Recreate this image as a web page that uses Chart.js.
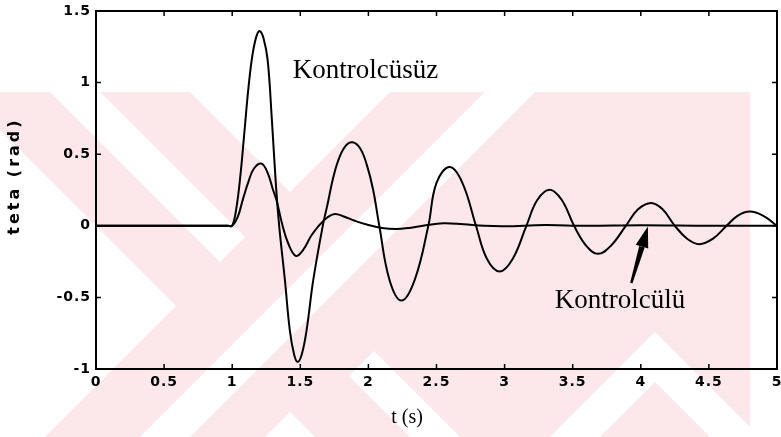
<!DOCTYPE html>
<html>
<head>
<meta charset="utf-8">
<script src="https://cdn.jsdelivr.net/npm/chart.js@4/dist/chart.umd.min.js"></script>
<style>
  html, body { margin: 0; padding: 0; background: #fff; }
  #wrap { width: 781px; height: 437px; }
</style>
</head>
<body>
<div id="wrap"><canvas id="c" width="781" height="437"></canvas></div>
<script>
// Pendulum angle response, without and with the controller
const timeFree = [0, 0.9, 0.97, 1.0, 1.03, 1.06, 1.09, 1.12, 1.15, 1.18, 1.203, 1.23, 1.26, 1.29, 1.32, 1.345,
  1.387, 1.423, 1.455, 1.48, 1.51, 1.546, 1.595, 1.665, 1.70, 1.74, 1.78, 1.83, 1.883, 1.94, 1.99, 2.035, 2.08,
  2.155, 2.243, 2.34, 2.44, 2.50, 2.597, 2.69, 2.79, 2.87, 2.964, 3.06, 3.16, 3.24, 3.331, 3.42,
  3.51, 3.60, 3.685, 3.78, 3.89, 3.98, 4.076, 4.16, 4.25, 4.34, 4.43, 4.53, 4.63, 4.71, 4.80, 4.90, 5.0];
const thetaFree = [0, 0, 0, 0, 0.12, 0.35, 0.66, 0.97, 1.2, 1.33, 1.36, 1.31, 1.16, 0.76, 0.3, 0,
  -0.38, -0.73, -0.9, -0.95, -0.9, -0.73, -0.38, 0, 0.15, 0.33, 0.46, 0.555, 0.583, 0.54, 0.42, 0.25, 0,
  -0.378, -0.522, -0.378, 0, 0.3, 0.41, 0.3, 0, -0.23, -0.319, -0.23, 0, 0.18, 0.252, 0.18,
  0, -0.14, -0.196, -0.14, 0, 0.115, 0.159, 0.115, 0, -0.09, -0.128, -0.09, 0, 0.07, 0.1, 0.07, 0];

const timeCtrl = [0, 0.9, 0.97, 1.0, 1.04, 1.08, 1.12, 1.16, 1.215, 1.26, 1.3, 1.325, 1.37, 1.41, 1.467, 1.52,
  1.58, 1.635, 1.7, 1.753, 1.82, 1.9, 2.0, 2.1, 2.2, 2.3, 2.4, 2.55, 2.7, 2.85, 3.0, 3.3, 3.6, 4.0, 4.5, 5.0];
const thetaCtrl = [0, 0, 0, 0, 0.06, 0.19, 0.31, 0.4, 0.434, 0.37, 0.25, 0.18, 0, -0.12, -0.21, -0.17,
  -0.07, 0, 0.06, 0.083, 0.065, 0.035, 0.005, -0.015, -0.022, -0.015, 0, 0.018, 0.01, 0, -0.003, 0.005, 0, 0.004, 0, 0];

const xTicks = [0, 0.5, 1, 1.5, 2, 2.5, 3, 3.5, 4, 4.5, 5];
const xTickLabels = ['0', '0.5', '1', '1.5', '2', '2.5', '3', '3.5', '4', '4.5', '5'];
const yTicks = [-1, -0.5, 0, 0.5, 1, 1.5];
const yTickLabels = ['-1', '-0.5', '0', '0.5', '1', '1.5'];

const seriesNames = ['Kontrolcüsüz', 'Kontrolcülü'];
const xTitle = 't (s)';
const yTitle = 'teta (rad)';

// Annotation anchors in data units
const freeLabelAt = { x: 1.445, y: 1.03 };
const ctrlLabelAt = { x: 3.368, y: -0.572 };
const arrowFrom = { x: 3.93, y: -0.40 };
const arrowTo = { x: 4.052, y: -0.005 };

const TICK_FONT = { family: 'DejaVu Sans', size: 14, weight: 'bold' };
const SHEET_PINK = '#fce7eb';

// Faint diagonal pattern printed behind the figure
function drawSheet(ctx) {
  const poly = (pts, color) => {
    ctx.fillStyle = color;
    ctx.beginPath();
    ctx.moveTo(pts[0][0], pts[0][1]);
    for (let i = 1; i < pts.length; i++) ctx.lineTo(pts[i][0], pts[i][1]);
    ctx.closePath();
    ctx.fill();
  };
  ctx.save();
  ctx.fillStyle = '#ffffff';
  ctx.fillRect(0, 0, 781, 437);
  ctx.beginPath();
  ctx.rect(0, 92, 750, 345);
  ctx.clip();
  ctx.fillStyle = SHEET_PINK;
  ctx.fillRect(0, 92, 750, 345);
  const W = '#ffffff';
  poly([[190, 92], [390, 92], [290, 192]], W);                 // upper gap
  poly([[0, 130], [176, 306], [0, 482]], W);                   // left gap
  poly([[290, 412], [315, 437], [265, 437]], W);               // lower gap
  poly([[50, 92], [100, 92], [245, 237], [220, 262]], W);      // stripe in the falling band
  poly([[374, 351], [349, 376], [410, 437], [460, 437]], W);
  poly([[485, 92], [535, 92], [190, 437], [140, 437]], W);     // stripe in the rising band
  poly([[655, 332], [760, 437], [550, 437]], W);               // chevron lower right
  poly([[655, 382], [710, 437], [600, 437]], SHEET_PINK);
  ctx.restore();
}

const framePlugin = {
  id: 'frame',
  beforeUpdate(chart) { chart.ctx.letterSpacing = '1px'; },
  beforeDraw(chart) {
    drawSheet(chart.ctx);
    chart.ctx.letterSpacing = '1px';
  },
  afterDraw(chart) {
    const ctx = chart.ctx;
    const a = chart.chartArea;
    const xs = chart.scales.x, ys = chart.scales.y;
    ctx.save();
    ctx.letterSpacing = '0px';
    ctx.strokeStyle = '#000';
    ctx.lineWidth = 2;
    ctx.strokeRect(a.left, a.top, a.right - a.left, a.bottom - a.top);
    ctx.lineWidth = 1.5;
    const tl = 5;
    ctx.beginPath();
    for (const v of xTicks) {
      const px = xs.getPixelForValue(v);
      ctx.moveTo(px, a.bottom); ctx.lineTo(px, a.bottom - tl);
      ctx.moveTo(px, a.top); ctx.lineTo(px, a.top + tl);
    }
    for (const v of yTicks) {
      const py = ys.getPixelForValue(v);
      ctx.moveTo(a.left, py); ctx.lineTo(a.left + tl, py);
      ctx.moveTo(a.right, py); ctx.lineTo(a.right - tl, py);
    }
    ctx.stroke();

    // series labels
    ctx.fillStyle = '#000';
    ctx.font = '27px "Liberation Serif", "Times New Roman", serif';
    ctx.textAlign = 'left';
    ctx.textBaseline = 'alphabetic';
    ctx.fillText(seriesNames[0], xs.getPixelForValue(freeLabelAt.x), ys.getPixelForValue(freeLabelAt.y));
    ctx.fillText(seriesNames[1], xs.getPixelForValue(ctrlLabelAt.x), ys.getPixelForValue(ctrlLabelAt.y));

    // arrow pointing at the controlled response
    const x0 = xs.getPixelForValue(arrowFrom.x), y0 = ys.getPixelForValue(arrowFrom.y);
    const x1 = xs.getPixelForValue(arrowTo.x), y1 = ys.getPixelForValue(arrowTo.y);
    const dx = x1 - x0, dy = y1 - y0, len = Math.hypot(dx, dy);
    const ux = dx / len, uy = dy / len, nx = -uy, ny = ux;
    const headLen = 21, headW = 6.5;
    const bx = x1 - ux * headLen, by = y1 - uy * headLen;
    ctx.beginPath();
    ctx.moveTo(x0 + nx * 1.2, y0 + ny * 1.2);
    ctx.lineTo(bx + nx * 2.8, by + ny * 2.8);
    ctx.lineTo(bx - nx * 2.8, by - ny * 2.8);
    ctx.lineTo(x0 - nx * 1.2, y0 - ny * 1.2);
    ctx.closePath();
    ctx.fill();
    ctx.beginPath();
    ctx.moveTo(x1, y1);
    ctx.lineTo(bx + nx * headW, by + ny * headW);
    ctx.lineTo(bx - nx * headW, by - ny * headW);
    ctx.closePath();
    ctx.fill();

    // axis titles
    ctx.font = '20px "Liberation Serif", "Times New Roman", serif';
    ctx.textAlign = 'center';
    ctx.textBaseline = 'middle';
    ctx.fillText(xTitle, 407, 418);
    ctx.save();
    ctx.translate(15, 176);
    ctx.rotate(-Math.PI / 2);
    ctx.letterSpacing = '3px';
    ctx.font = 'bold 16px "DejaVu Sans", sans-serif';
    ctx.fillText(yTitle, 0, 0);
    ctx.restore();
    ctx.restore();
  }
};

const toPoints = (ts, vs) => ts.map((t, i) => ({ x: t, y: vs[i] }));

new Chart(document.getElementById('c'), {
  type: 'line',
  data: {
    datasets: [
      { label: seriesNames[0], data: toPoints(timeFree, thetaFree), borderColor: '#000', borderWidth: 2,
        pointRadius: 0, tension: 0.4, fill: false },
      { label: seriesNames[1], data: toPoints(timeCtrl, thetaCtrl), borderColor: '#000', borderWidth: 2,
        pointRadius: 0, tension: 0.4, fill: false }
    ]
  },
  options: {
    responsive: false,
    animation: false,
    devicePixelRatio: 1,
    layout: { padding: { top: 11, right: 4, left: 0, bottom: 0 } },
    plugins: { legend: { display: false }, tooltip: { enabled: false } },
    scales: {
      x: {
        type: 'linear', min: 0, max: 5,
        afterBuildTicks: s => { s.ticks = xTicks.map(v => ({ value: v })); },
        afterFit: s => { s.height = 68; s.paddingLeft = 0; s.paddingRight = 0; },
        grid: { display: false, drawTicks: false },
        border: { display: false },
        ticks: { color: '#000', font: TICK_FONT, padding: 5, maxRotation: 0, autoSkip: false,
          callback: v => xTickLabels[xTicks.indexOf(v)] }
      },
      y: {
        type: 'linear', min: -1, max: 1.5,
        afterBuildTicks: s => { s.ticks = yTicks.map(v => ({ value: v })); },
        afterFit: s => { s.width = 96; s.paddingTop = 0; s.paddingBottom = 0; },
        grid: { display: false, drawTicks: false },
        border: { display: false },
        ticks: { color: '#000', font: TICK_FONT, padding: 5, autoSkip: false,
          callback: v => yTickLabels[yTicks.indexOf(v)] }
      }
    }
  },
  plugins: [framePlugin]
});
</script>
</body>
</html>
